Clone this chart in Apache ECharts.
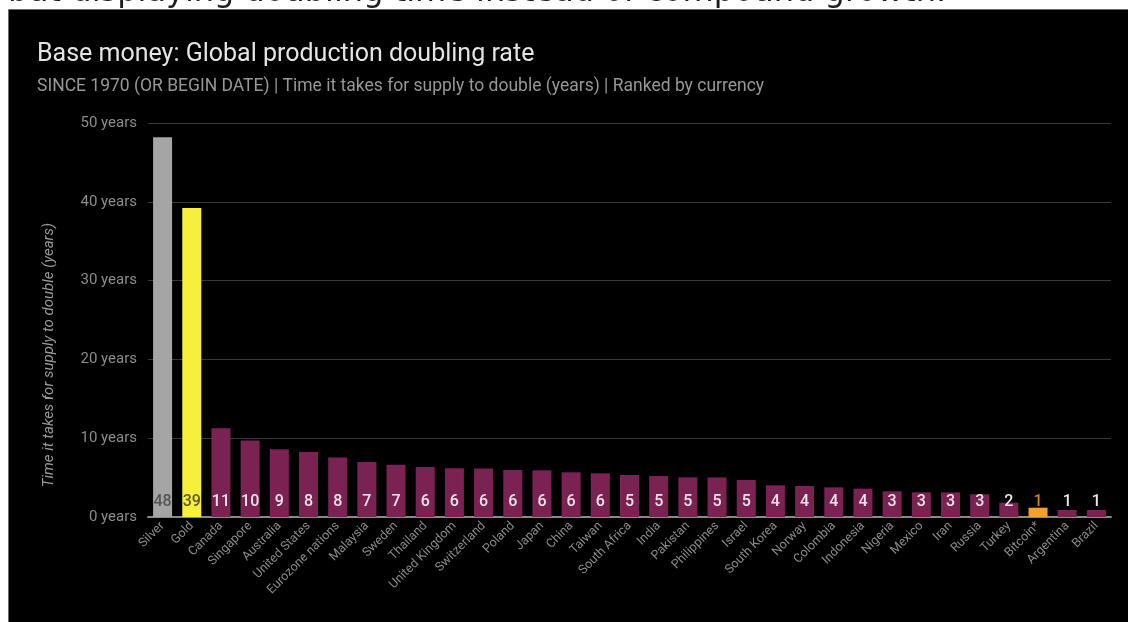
<!DOCTYPE html>
<html>
<head>
<meta charset="utf-8">
<script src="https://cdn.jsdelivr.net/npm/echarts@6/dist/echarts.min.js"></script>
<style>
html,body{margin:0;padding:0;background:#fff;}
#chart{width:1128px;height:622px;}
</style>
</head>
<body>
<div id="chart"></div>
<script>
// ---- data ----
const categories = ["Silver","Gold","Canada","Singapore","Australia","United States","Eurozone nations","Malaysia","Sweden","Thailand","United Kingdom","Switzerland","Poland","Japan","China","Taiwan","South Africa","India","Pakistan","Philippines","Israel","South Korea","Norway","Colombia","Indonesia","Nigeria","Mexico","Iran","Russia","Turkey","Bitcoin*","Argentina","Brazil"];
const doublingYears = [48.2,39.2,11.25,9.7,8.6,8.25,7.55,6.98,6.64,6.35,6.18,6.15,5.96,5.92,5.67,5.55,5.33,5.2,5.03,5.02,4.7,4.02,3.93,3.76,3.6,3.26,3.13,3.12,2.88,1.82,1.18,0.89,0.89];
const yTickValues = [0,10,20,30,40,50];
const pageHeading = "but displaying doubling time instead of compound growth.";
const chartTitle = "Base money: Global production doubling rate";
const chartSubtitle = "SINCE 1970 (OR BEGIN DATE) | Time it takes for supply to double (years) | Ranked by currency";
const yAxisTitle = "Time it takes for supply to double (years)";

// ---- styles ----
const barColors = {"Silver":"#a5a5a5","Gold":"#f7f03a","Bitcoin*":"#f2a12c"};
const labelColors = {"Silver":"#555555","Gold":"#5e5a20","Bitcoin*":"#c9861f"};
const defaultBar = "#7a2352";
const defaultLabel = "#f3e3ec";

const seriesData = doublingYears.map((v,i)=>({
  value: v,
  itemStyle: {color: barColors[categories[i]] || defaultBar},
  label: {color: labelColors[categories[i]] || defaultLabel}
}));

const chart = echarts.init(document.getElementById('chart'), null, {renderer:'canvas'});
chart.setOption({
  backgroundColor: '#ffffff',
  animation: false,
  textStyle: {fontFamily: 'Roboto'},
  graphic: [
    {type:'text', z:-20, left:8, top:-23, style:{text: pageHeading, font:'32px "DejaVu Sans"', fill:'#1e1e1e'}},
    {type:'rect', z:-10, shape:{x:8.5, y:9.5, width:1130, height:620}, style:{fill:'#000000', stroke:'#6a6a6a', lineWidth:1}},
    {type:'text', z:10, x:49, y:355, rotation: Math.PI/2,
      style:{text: yAxisTitle, font:'italic 15px Roboto', fill:'#9a9a9a', textAlign:'center', textVerticalAlign:'middle'}}
  ],
  title: {
    text: chartTitle,
    subtext: chartSubtitle,
    left: 32, top: 37,
    itemGap: 11,
    textStyle: {color:'#e4e4e4', fontSize:25, fontWeight:'normal', fontFamily:'Roboto'},
    subtextStyle: {color:'#979797', fontSize:17.5, fontFamily:'Roboto'}
  },
  grid: {left:148, right:17, top:123, bottom:105, containLabel:false},
  xAxis: {
    type:'category',
    data: categories,
    axisLine: {show:true, lineStyle:{color:'#8a8a8a', width:2}},
    axisTick: {show:false},
    axisLabel: {rotate:45, color:'#8a8a8a', fontSize:12.5, margin:7, interval:0, fontFamily:'Roboto'}
  },
  yAxis: {
    type:'value',
    min: yTickValues[0], max: yTickValues[yTickValues.length-1], interval: 10,
    axisLine: {show:false},
    axisTick: {show:false},
    axisLabel: {formatter:'{value} years', color:'#8c8c8c', fontSize:15, margin:11, fontFamily:'Roboto'},
    splitLine: {lineStyle:{color:'#3a3a3a', width:1.2}}
  },
  series: [{
    type:'bar',
    data: seriesData,
    barWidth: 19,
    label: {show:true, position:'insideBottom', distance:7, fontSize:16, fontWeight:500,
      formatter: p => String(Math.round(p.value))}
  }]
});
</script>
</body>
</html>
